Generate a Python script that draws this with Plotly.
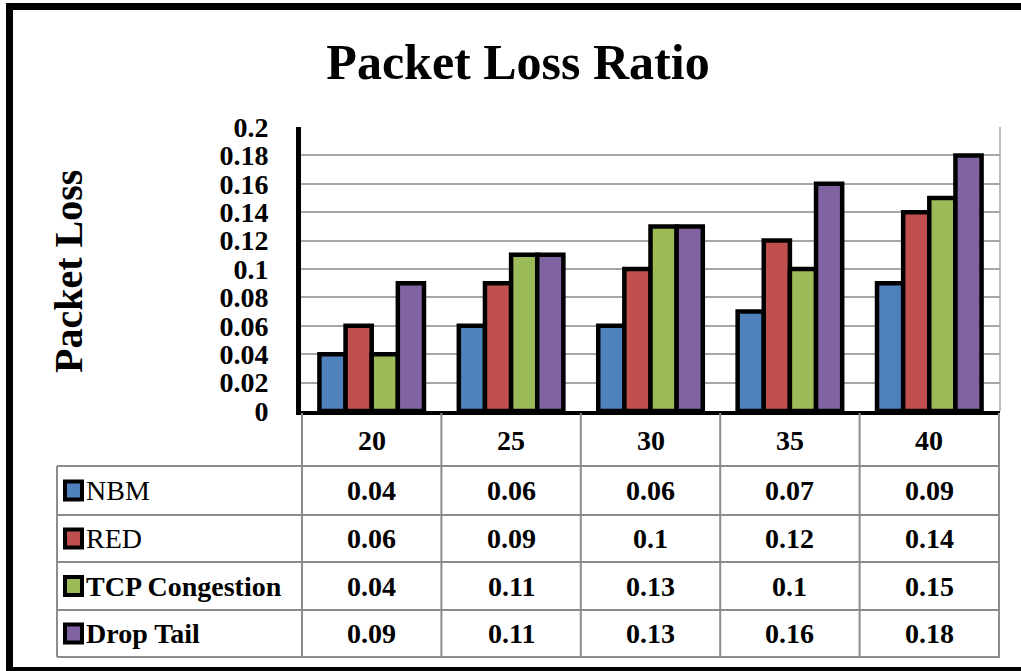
import plotly.graph_objects as go

# ---- data ----
categories = ["20", "25", "30", "35", "40"]
series_names = ["NBM", "RED", "TCP Congestion", "Drop Tail"]
nbm = [0.04, 0.06, 0.06, 0.07, 0.09]
red = [0.06, 0.09, 0.10, 0.12, 0.14]
tcp = [0.04, 0.11, 0.13, 0.10, 0.15]
drop_tail = [0.09, 0.11, 0.13, 0.16, 0.18]
series_values = [nbm, red, tcp, drop_tail]
colors = ["#4F81BD", "#C0504D", "#9BBB59", "#8064A2"]
title_text = "Packet Loss Ratio"
y_title = "Packet Loss"

# ---- layout geometry (pixels) ----
W, H = 1021, 671
L, R, T, B = 301, 21, 127, 260
PW = W - L - R
PH = H - T - B
FONT = "Liberation Serif, Times New Roman, serif"


def px_x(px):
    return (px - L) / PW


def px_y(py):
    return (H - B - py) / PH


fig = go.Figure()
for name, vals, col in zip(series_names, series_values, colors):
    fig.add_trace(go.Bar(
        x=categories, y=vals, name=name,
        marker=dict(color=col, line=dict(color="black", width=4.5)),
        showlegend=False,
    ))

shapes = []
annotations = []

# outer frame
frame_col = "black"
shapes.append(dict(type="line", xref="paper", yref="paper",
                   x0=px_x(9.5), x1=px_x(1030), y0=px_y(6.5), y1=px_y(6.5),
                   line=dict(color=frame_col, width=7)))
shapes.append(dict(type="line", xref="paper", yref="paper",
                   x0=px_x(9.5), x1=px_x(9.5), y0=px_y(3), y1=px_y(671),
                   line=dict(color=frame_col, width=7)))
shapes.append(dict(type="line", xref="paper", yref="paper",
                   x0=px_x(6), x1=px_x(1030), y0=px_y(669.5), y1=px_y(669.5),
                   line=dict(color=frame_col, width=5)))

# right plot border
shapes.append(dict(type="line", xref="paper", yref="paper",
                   x0=1, x1=1, y0=0, y1=1,
                   line=dict(color="#A6A6A6", width=1.5)))

# data table
grid_col = "#8C8C8C"
row_edges = [466, 515, 562, 610, 657]
row_centers = [440, 490.5, 538.5, 586, 633.5]
for py in row_edges:
    shapes.append(dict(type="line", xref="paper", yref="paper",
                       x0=px_x(57), x1=1, y0=px_y(py), y1=px_y(py),
                       line=dict(color=grid_col, width=2)))
shapes.append(dict(type="line", xref="paper", yref="paper",
                   x0=px_x(57), x1=px_x(57), y0=px_y(466), y1=px_y(657),
                   line=dict(color=grid_col, width=2)))
for k in range(len(categories) + 1):
    shapes.append(dict(type="line", xref="x", yref="paper",
                       x0=k - 0.5, x1=k - 0.5, y0=px_y(413), y1=px_y(657),
                       line=dict(color=grid_col, width=2)))

cell_font = dict(family=FONT, size=28, color="black")
for j, cat in enumerate(categories):
    annotations.append(dict(xref="x", yref="paper", x=j, y=px_y(row_centers[0]),
                            text=f"<b>{cat}</b>", showarrow=False, font=cell_font,
                            xanchor="center", yanchor="middle"))
for i, (name, vals, col) in enumerate(zip(series_names, series_values, colors)):
    yc = row_centers[i + 1]
    shapes.append(dict(type="rect", xref="paper", yref="paper",
                       x0=px_x(65), x1=px_x(82), y0=px_y(yc - 9), y1=px_y(yc + 9),
                       fillcolor=col, line=dict(color="black", width=4)))
    label = name if i < 2 else f"<b>{name}</b>"
    annotations.append(dict(xref="paper", yref="paper", x=px_x(84), y=px_y(yc),
                            text=label, showarrow=False, font=cell_font,
                            xanchor="left", yanchor="middle"))
    for j, v in enumerate(vals):
        annotations.append(dict(xref="x", yref="paper", x=j, y=px_y(yc),
                                text=f"<b>{v:g}</b>", showarrow=False, font=cell_font,
                                xanchor="center", yanchor="middle"))

# y-axis title
annotations.append(dict(xref="paper", yref="paper", x=px_x(68), y=px_y(272),
                        text=f"<b>{y_title}</b>", showarrow=False, textangle=-90,
                        font=dict(family=FONT, size=40, color="black"),
                        xanchor="center", yanchor="middle"))

fig.update_layout(
    width=W, height=H,
    margin=dict(l=L, r=R, t=T, b=B, autoexpand=False),
    paper_bgcolor="white", plot_bgcolor="white",
    title=dict(text=f"<b>{title_text}</b>", xref="container", yref="container",
               x=518 / W, y=1 - 61 / H, xanchor="center", yanchor="middle",
               font=dict(family=FONT, size=50, color="black")),
    barmode="group", bargap=0.25, bargroupgap=0,
    xaxis=dict(type="category", showticklabels=False, showgrid=False, zeroline=False,
               showline=True, linecolor="black", linewidth=4, ticks=""),
    yaxis=dict(range=[0, 0.2], dtick=0.02, showgrid=True, gridcolor="#A6A6A6",
               gridwidth=1.5, zeroline=False, showline=True, linecolor="black",
               linewidth=5, ticks="outside", ticklen=22, tickcolor="rgba(0,0,0,0)",
               tickfont=dict(family=FONT, size=28, color="black"),
               tickprefix="<b>", ticksuffix="</b>"),
    shapes=shapes,
    annotations=annotations,
)

fig.write_html("out.html", config={"displayModeBar": False},
               post_script="document.body.style.margin='0px';document.body.style.overflow='hidden';")
